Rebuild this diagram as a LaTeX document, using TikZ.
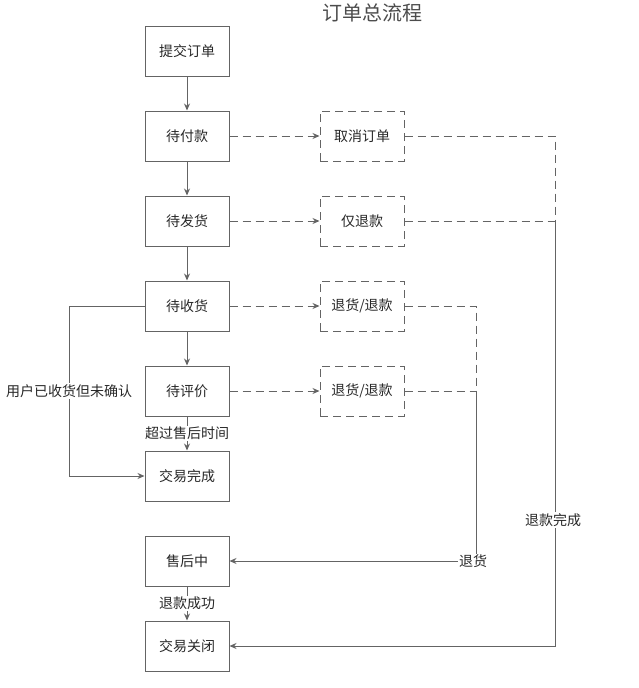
\documentclass[tikz,border=0pt]{standalone}
\usepackage{fontspec}
\setmainfont{Noto Sans CJK SC}
\usetikzlibrary{arrows.meta}

\definecolor{linegray}{RGB}{100,100,100}
\definecolor{textgray}{RGB}{40,40,40}

\begin{document}
\begin{tikzpicture}[x=1pt, y=-1pt, >={Stealth[length=7pt, width=6pt]},
  line width=1pt, draw=linegray, font=\fontsize{14}{16}\selectfont, text=textgray,
  box/.style={draw=linegray, minimum width=84pt, minimum height=50pt, inner sep=0pt},
  dashline/.style={draw=linegray, dash pattern=on 8pt off 5pt},
  dbox/.style={box, dashline},
  lbl/.style={fill=white, inner sep=1pt}]

  \useasboundingbox (0,0) rectangle (638,688);

  % title
  \node[font=\fontsize{20}{22}\selectfont, text=black!70] (title) at (372,13) {订单总流程};

  % main column
  \node[box] (submit)     at (187, 51) {提交订单};
  \node[box] (unpaid)     at (187,136) {待付款};
  \node[box] (unshipped)  at (187,221) {待发货};
  \node[box] (unreceived) at (187,306) {待收货};
  \node[box] (unrated)    at (187,391) {待评价};
  \node[box] (done)       at (187,476) {交易完成};
  \node[box] (service)    at (187,561) {售后中};
  \node[box] (closed)     at (187,646) {交易关闭};

  % side column
  \node[dbox] (cancel) at (362,136) {取消订单};
  \node[dbox] (refund) at (362,221) {仅退款};
  \node[dbox] (ret1)   at (362,306) {退货/退款};
  \node[dbox] (ret2)   at (362,391) {退货/退款};

  % corners
  \coordinate (ltop)  at ( 69,306);
  \coordinate (lbot)  at ( 69,476);
  \coordinate (mtop)  at (476,306);
  \coordinate (mjoin) at (476,391);
  \coordinate (mbot)  at (476,561);
  \coordinate (rtop)  at (555,136);
  \coordinate (rjoin) at (555,221);
  \coordinate (rbot)  at (555,646);

  % main flow
  \draw[->] (submit) -- (unpaid);
  \draw[->] (unpaid) -- (unshipped);
  \draw[->] (unshipped) -- (unreceived);
  \draw[->] (unreceived) -- (unrated);
  \draw[->] (unrated) -- (done) node[lbl, midway] (timeout) {超过售后时间};
  \draw[->] (service) -- (closed) node[lbl, midway] (refundok) {退款成功};

  % user received but not confirmed
  \draw[->] (unreceived.west) -- (ltop) -- (lbot) -- (done.west);
  \node[lbl] (confirm) at (69,391) {用户已收货但未确认};

  % side branches
  \draw[dashline, ->] (unpaid) -- (cancel);
  \draw[dashline, ->] (unshipped) -- (refund);
  \draw[dashline, ->] (unreceived) -- (ret1);
  \draw[dashline, ->] (unrated) -- (ret2);

  % returns
  \draw[dashline] (ret1.east) -- (mtop) -- (mjoin);
  \draw[dashline] (ret2.east) -- (mjoin);
  \draw[->] (mjoin) -- (mbot) -- (service.east);
  \node[lbl] (returned) at (473,561) {退货};

  % refunds
  \draw[dashline] (cancel.east) -- (rtop) -- (rjoin);
  \draw[dashline] (refund.east) -- (rjoin);
  \draw[->] (rjoin) -- (rbot) -- (closed.east);
  \node[lbl] (refunddone) at (553,520) {退款完成};

\end{tikzpicture}
\end{document}
